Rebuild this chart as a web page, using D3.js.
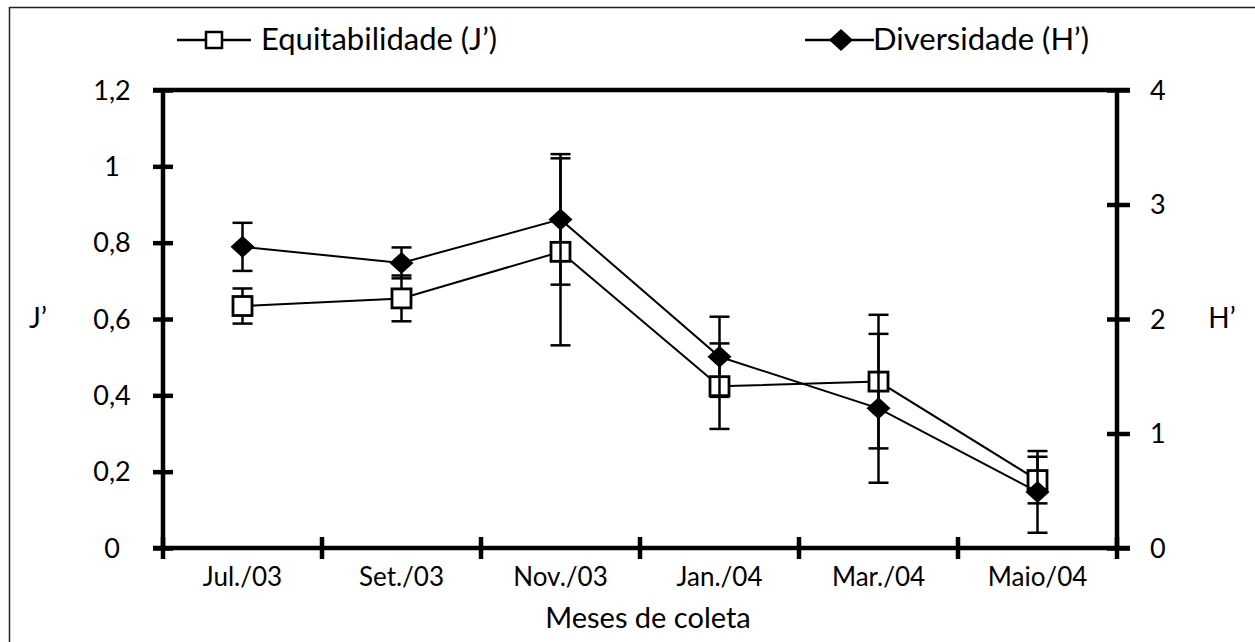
<!DOCTYPE html>
<html>
<head>
<meta charset="utf-8">
<script src="https://cdn.jsdelivr.net/npm/d3@7"></script>
<style>
  body { margin: 0; background: #fff; }
  text { font-family: Lato, "Open Sans", sans-serif; fill: #000; }
</style>
</head>
<body>
<div id="chart"></div>
<script>
// meses de coleta
var meses = ["Jul./03", "Set./03", "Nov./03", "Jan./04", "Mar./04", "Maio/04"];

// equitabilidade J' (eixo esquerdo) e desvio
var equit = [0.634, 0.654, 0.776, 0.424, 0.436, 0.178];
var equitErr = [0.046, 0.06, 0.245, 0.112, 0.175, 0.061];

// diversidade H' (eixo direito) e desvio
var divers = [2.63, 2.49, 2.87, 1.67, 1.22, 0.49];
var diversErr = [0.21, 0.135, 0.57, 0.35, 0.65, 0.357];

var jTicks = [0, 0.2, 0.4, 0.6, 0.8, 1, 1.2];
var jLabels = ["0", "0,2", "0,4", "0,6", "0,8", "1", "1,2"];
var hTicks = [0, 1, 2, 3, 4];
var hLabels = ["0", "1", "2", "3", "4"];

var W = 1255, H = 642;
// (nao usar "top": conflita com window.top)
var pLeft = 163, pRight = 1117, pTop = 90, pBottom = 548;

var svg = d3.select("#chart").append("svg")
    .attr("width", W)
    .attr("height", H);

svg.append("rect").attr("width", W).attr("height", H).attr("fill", "#fff");
// moldura
svg.append("rect")
    .attr("x", 9.5).attr("y", 7.5)
    .attr("width", W + 20).attr("height", H + 20)
    .attr("fill", "none").attr("stroke", "#222").attr("stroke-width", 1.5);

var x = d3.scaleBand().domain(meses).range([pLeft, pRight]);
var yJ = d3.scaleLinear().domain([0, 1.2]).range([pBottom, pTop]);
var yH = d3.scaleLinear().domain([0, 4]).range([pBottom, pTop]);
var cx = function(d) { return x(d) + x.bandwidth() / 2; };

// eixo esquerdo
var axL = svg.append("g")
    .attr("transform", "translate(" + pLeft + ",0)")
    .call(d3.axisLeft(yJ).tickValues(jTicks).tickFormat(function(d, i) { return jLabels[i]; }));
axL.select(".domain").attr("stroke-width", 4.5).attr("d", "M0," + (pBottom + 2) + "V" + (pTop - 2));
axL.selectAll(".tick line").attr("x1", -10).attr("x2", 10).attr("stroke-width", 4.5);
axL.selectAll(".tick text")
    .attr("x", -51).attr("text-anchor", "middle").attr("dy", "0.34em")
    .attr("font-size", 27).attr("font-family", "Lato");

// eixo direito
var axR = svg.append("g")
    .attr("transform", "translate(" + pRight + ",0)")
    .call(d3.axisRight(yH).tickValues(hTicks).tickFormat(function(d, i) { return hLabels[i]; }));
axR.select(".domain").attr("stroke-width", 4.5).attr("d", "M0," + (pBottom + 2) + "V" + (pTop - 2));
axR.selectAll(".tick line").attr("x1", -10).attr("x2", 13).attr("stroke-width", 4.5);
axR.selectAll(".tick text")
    .attr("x", 33).attr("dy", "0.34em")
    .attr("font-size", 27).attr("font-family", "Lato");

// linha de cima
svg.append("line")
    .attr("x1", pLeft - 10).attr("x2", pRight + 13)
    .attr("y1", pTop).attr("y2", pTop)
    .attr("stroke", "#000").attr("stroke-width", 4.5);

// eixo x
var axB = svg.append("g")
    .attr("transform", "translate(0," + pBottom + ")")
    .call(d3.axisBottom(x).tickSize(0));
axB.select(".domain").attr("stroke-width", 4.5).attr("d", "M" + (pLeft - 10) + ",0H" + (pRight + 13));
axB.selectAll(".tick text")
    .attr("y", 38).attr("dy", 0)
    .attr("font-size", 26).attr("font-family", "Lato");
// marcas entre as categorias
var edges = meses.map(function(m) { return x(m); }).concat([x(meses[meses.length - 1]) + x.bandwidth()]);
axB.selectAll(".sep")
    .data(edges)
    .enter().append("line")
    .attr("x1", function(d) { return d; })
    .attr("x2", function(d) { return d; })
    .attr("y1", -11).attr("y2", 11)
    .attr("stroke", "#000").attr("stroke-width", 4.5);

// titulos
svg.append("text").attr("x", 648).attr("y", 628)
    .attr("text-anchor", "middle").attr("font-size", 29).text("Meses de coleta");
svg.append("text").attr("x", 38).attr("y", 319).attr("dy", "0.32em")
    .attr("text-anchor", "middle").attr("font-size", 28).text("J’");
svg.append("text").attr("x", 1222).attr("y", 319).attr("dy", "0.32em")
    .attr("text-anchor", "middle").attr("font-size", 28).text("H’");

var line = d3.line();
var diamond = function(px, py) {
  return "M" + px + "," + (py - 11) + "L" + (px + 12) + "," + py + "L" + px + "," + (py + 11) + "L" + (px - 12) + "," + py + "Z";
};

function errBars(vals, errs, y) {
  var g = svg.append("g").attr("stroke", "#000").attr("stroke-width", 2.5).attr("fill", "none");
  meses.forEach(function(m, i) {
    var px = cx(m), t = y(vals[i] + errs[i]), b = y(vals[i] - errs[i]);
    g.append("line").attr("x1", px).attr("x2", px).attr("y1", t).attr("y2", b);
    g.append("line").attr("x1", px - 10).attr("x2", px + 10).attr("y1", t).attr("y2", t);
    g.append("line").attr("x1", px - 10).attr("x2", px + 10).attr("y1", b).attr("y2", b);
  });
}

// serie J'
svg.append("path")
    .attr("d", line(meses.map(function(m, i) { return [cx(m), yJ(equit[i])]; })))
    .attr("fill", "none").attr("stroke", "#000").attr("stroke-width", 2);
errBars(equit, equitErr, yJ);
svg.selectAll(".sq")
    .data(equit)
    .enter().append("rect")
    .attr("x", function(d, i) { return cx(meses[i]) - 9.5; })
    .attr("y", function(d) { return yJ(d) - 9.5; })
    .attr("width", 19).attr("height", 19)
    .attr("fill", "#fff").attr("stroke", "#000").attr("stroke-width", 2.8);

// serie H'
svg.append("path")
    .attr("d", line(meses.map(function(m, i) { return [cx(m), yH(divers[i])]; })))
    .attr("fill", "none").attr("stroke", "#000").attr("stroke-width", 2);
errBars(divers, diversErr, yH);
svg.selectAll(".dm")
    .data(divers)
    .enter().append("path")
    .attr("d", function(d, i) { return diamond(cx(meses[i]), yH(d)); })
    .attr("fill", "#000");

// legenda
var lg = svg.append("g");
lg.append("line").attr("x1", 177).attr("x2", 251).attr("y1", 40).attr("y2", 40)
    .attr("stroke", "#000").attr("stroke-width", 2.5);
lg.append("rect").attr("x", 206).attr("y", 32).attr("width", 16).attr("height", 16)
    .attr("fill", "#fff").attr("stroke", "#000").attr("stroke-width", 2.5);
lg.append("text").attr("x", 261).attr("y", 50).attr("font-size", 31).text("Equitabilidade (J’)");
lg.append("line").attr("x1", 805).attr("x2", 874).attr("y1", 40).attr("y2", 40)
    .attr("stroke", "#000").attr("stroke-width", 2.5);
lg.append("path").attr("d", diamond(841, 40)).attr("fill", "#000");
lg.append("text").attr("x", 873).attr("y", 50).attr("font-size", 31).text("Diversidade (H’)");
</script>
</body>
</html>
